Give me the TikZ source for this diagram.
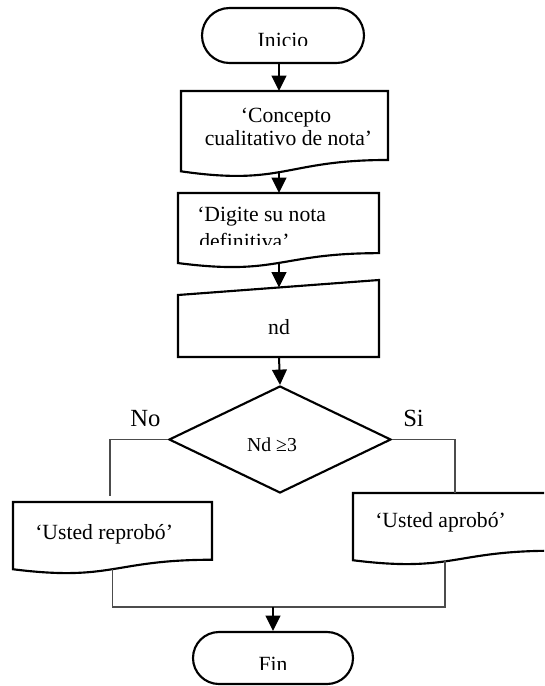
\documentclass[tikz,border=0pt]{standalone}
\usepackage{fontspec}
\setmainfont{Liberation Serif}
\usetikzlibrary{arrows.meta,calc,shapes.geometric,shapes.misc}

% document symbol: flat top, wavy bottom; also leaves a coordinate <name>-wave
\newcommand\docoutline[1]{%
  \draw[shapeline] (#1.north west) -- (#1.north east)
    -- ($(#1.north east)!0.802!(#1.south east)$)
    .. controls ($(#1.north)!0.802!(#1.south)$) and ($(#1.north)!1.1075!(#1.south)$)
    .. ($(#1.north west)!0.934!(#1.south west)$) -- cycle;
  \coordinate (#1-wave) at ($(#1.north)!0.933!(#1.south)$);}

\begin{document}
\begin{tikzpicture}[x=0.75pt,y=-0.75pt,
  shapeline/.style={draw=black,line width=1.6pt,line join=miter},
  terminal/.style={shapeline,rounded rectangle,inner sep=0pt},
  frame/.style={inner sep=0pt,outer sep=0pt},
  flow/.style={line width=1.5pt,-{Triangle[length=11.5pt,width=11pt]}},
  branch/.style={line width=0.9pt,draw=black!70},
  txt/.style={inner sep=0pt,font=\fontsize{16.25}{19}\selectfont},
  big/.style={inner sep=0pt,font=\fontsize{18.5}{21}\selectfont},
  cond/.style={inner sep=0pt,font=\fontsize{14.8}{17}\selectfont},
]
\clip (0,0) rectangle (544,686);

% shapes
\node[terminal,minimum width=121.5pt,minimum height=41.25pt] (ini) at (283,35.5) {};
\node[frame,minimum width=155.25pt,minimum height=64.5pt] (d1) at (284.5,134) {};
\node[frame,minimum width=150.75pt,minimum height=56.25pt] (d2) at (278.5,230.5) {};
\node[frame,minimum width=150.75pt,minimum height=57.75pt] (nd) at (278.5,318.5) {};
\node[shapeline,diamond,minimum width=166.5pt,minimum height=80.25pt,inner sep=0pt] (dia) at (280,439.5) {};
\node[frame,minimum width=149.25pt,minimum height=54pt] (d3) at (112.5,538) {};
\node[frame,minimum width=150pt,minimum height=54pt] (d4) at (453,529) {};
\node[terminal,minimum width=120pt,minimum height=39pt] (fin) at (273,658) {};

\docoutline{d1}
\docoutline{d2}
\docoutline{d3}
\docoutline{d4}
% manual input: top edge slopes up to the right
\draw[shapeline] (nd.south west) -- (nd.south east) -- (nd.north east)
  -- ($(nd.north west)+(0,15)$) -- cycle;

% texts
\begin{scope}
  \clip (150,0) rectangle (420,45.5);
  \node[txt,anchor=base] (initxt) at (283,47.5) {Inicio};
\end{scope}
\node[txt,anchor=base] (d1a) at (286,122) {‘Concepto};
\node[txt,anchor=base] (d1b) at (288.5,145) {cualitativo de nota’};
\node[txt,anchor=base west] (d2a) at (197,221) {‘Digite su nota};
\begin{scope}
  \clip (150,200) rectangle (420,244);
  \node[txt,anchor=base west] (d2b) at (199,248) {definitiva’};
\end{scope}
\node[txt,anchor=base] (ndtxt) at (279,334) {nd};
\node[cond,anchor=base] (diatxt) at (272,451) {Nd ≥3};
\node[big,anchor=base west] (no) at (130,426) {No};
\node[big,anchor=base west] (si) at (403,426) {Si};
\node[txt,anchor=base west] (d3t) at (35,539) {‘Usted reprobó’};
\node[txt,anchor=base west] (d4t) at (375,527) {‘Usted aprobó’};
\begin{scope}
  \clip (150,600) rectangle (420,669);
  \node[txt,anchor=base] (fintxt) at (273,671.5) {Fin};
\end{scope}

% main spine
\coordinate (spine) at (279,0);
\draw[flow] (ini.south -| spine) -- (d1.north -| spine);
\draw[flow] (d1-wave -| spine) -- (d2.north -| spine);
\draw[flow] (d2-wave -| spine) -- ($(nd.north -| spine)+(0,7.5)$);
\draw[flow] (nd.south -| spine) -- (dia.north);

% branches of the decision
\coordinate (lcol) at (110,0);
\coordinate (rcol) at (455,0);
\coordinate (rjoin) at (445,0);
\coordinate (merge) at (273,607);
\draw[branch] (dia.west) -- (dia.west -| lcol) -- ($(d3.north -| lcol)+(0,-6)$);
\draw[branch] (dia.east) -- (dia.east -| rcol) -- (d4.north -| rcol);
\draw[branch] (d3-wave) -- (d3-wave |- merge) -- (merge -| rjoin) -- (d4-wave -| rjoin);
\draw[flow] (merge) -- (fin.north);
\end{tikzpicture}
\end{document}
